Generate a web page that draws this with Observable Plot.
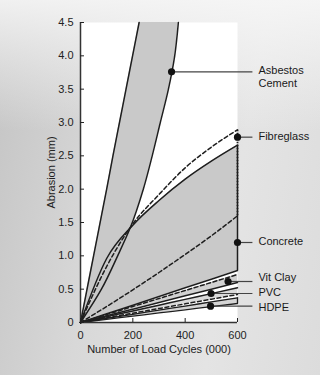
<!DOCTYPE html>
<html>
<head>
<meta charset="utf-8">
<script src="https://cdn.jsdelivr.net/npm/d3@7"></script>
<script src="https://cdn.jsdelivr.net/npm/@observablehq/plot@0.6"></script>
<style>
  html, body { margin: 0; padding: 0; }
  body {
    width: 320px; height: 375px; overflow: hidden;
    background:
      linear-gradient(to bottom, rgba(248,248,248,0.85) 0%, rgba(248,248,248,0) 35%),
      linear-gradient(100deg, #c4c4c4 0%, #d8d8d8 35%, #e4e4e4 70%, #dcdcdc 100%);
    font-family: "Liberation Sans", Arial, sans-serif;
  }
</style>
</head>
<body>
<div id="chart"></div>
<script>
// ---- Data ----
const xs = [0, 100, 200, 300, 400, 500, 600];            // load cycles (000)
const concreteUpper = [0, 0.96, 1.46, 1.83, 2.15, 2.42, 2.66];
const concreteLower = [0, 0.13, 0.26, 0.39, 0.52, 0.65, 0.78];
const fibreUpper    = [0, 0.84, 1.48, 1.92, 2.32, 2.63, 2.89];
const fibreLower    = [0, 0.24, 0.49, 0.75, 1.02, 1.30, 1.60];
const vitUpper      = [0, 0.12, 0.24, 0.36, 0.48, 0.60, 0.72];
const vitLower      = [0, 0.10, 0.20, 0.30, 0.40, 0.50, 0.60];
const pvcUpper      = [0, 0.087, 0.173, 0.26, 0.347, 0.433, 0.52];
const pvcLower      = [0, 0.07, 0.14, 0.21, 0.28, 0.35, 0.42];
const hdpeUpper     = [0, 0.062, 0.123, 0.185, 0.247, 0.308, 0.37];
const hdpeLower     = [0, 0.048, 0.095, 0.143, 0.19, 0.238, 0.285];

const asbY     = [0, 0.5, 1.0, 1.42, 2.0, 2.5, 3.0, 3.5, 4.0, 4.5];  // abrasion (mm)
const asbLeft  = [0, 25, 50, 71, 100, 124, 149, 174, 199, 224];
const asbRight = [0, 80, 142, 190, 240, 274, 305, 336, 360, 374];

const labels  = ["Asbestos\nCement", "Fibreglass", "Concrete", "Vit Clay", "PVC", "HDPE"];
const markerX = [348, 600, 600, 564, 499, 497];
const markerY = [3.76, 2.78, 1.2, 0.615, 0.435, 0.245];

const xTicks = [0, 200, 400, 600];
const yTicks = [0, 0.5, 1.0, 1.5, 2.0, 2.5, 3.0, 3.5, 4.0, 4.5];

// ---- Tables ----
const band = xs.map((x, i) => ({
  x,
  cu: concreteUpper[i], cl: concreteLower[i],
  fu: fibreUpper[i], fl: fibreLower[i],
  vu: vitUpper[i], vl: vitLower[i],
  pu: pvcUpper[i], pl: pvcLower[i],
  hu: hdpeUpper[i], hl: hdpeLower[i]
}));
const asb = asbY.map((y, i) => ({y, l: asbLeft[i], r: asbRight[i]}));
const markers = labels.map((t, i) => ({t, x: markerX[i], y: markerY[i]}));
const last = band[band.length - 1];
const xMax = xTicks[xTicks.length - 1];
const leaderEnd = 657, labelX = 680;
// small vertical nudges (in mm) so the stacked labels keep apart as in the reference
const labelNudge = {"Vit Clay": 0.04, "HDPE": -0.03};

const ink = "#1e1e1e";
const dash = "4,2.6";
const crv = "monotone-x";
const fontFam = `"Liberation Sans", Arial, sans-serif`;

const chart = Plot.plot({
  width: 320,
  height: 375,
  marginLeft: 80,
  marginRight: 83,
  marginTop: 22,
  marginBottom: 53,
  style: {background: "transparent", fontFamily: fontFam, fontSize: "11px", color: "#222"},
  x: {domain: [0, 600]},
  y: {domain: [0, 4.5]},
  marks: [
    Plot.frame({fill: "white", stroke: null}),
    // fills
    Plot.areaY(band, {x: "x", y1: "cl", y2: "cu", fill: "#c9c9c9", curve: crv}),
    Plot.areaY(band, {x: "x", y1: "vl", y2: "vu", fill: "#d2d2d2", curve: crv}),
    Plot.areaY(band, {x: "x", y1: "pl", y2: "pu", fill: "#dadada", curve: crv}),
    Plot.areaY(band, {x: "x", y1: "hl", y2: "hu", fill: "#d4d4d4", curve: crv}),
    Plot.areaX(asb, {y: "y", x1: "l", x2: "r", fill: "#c9c9c9", curve: "monotone-y"}),
    // HDPE
    Plot.line(band, {x: "x", y: "hu", stroke: ink, strokeWidth: 1.3, curve: crv}),
    Plot.line(band, {x: "x", y: "hl", stroke: ink, strokeWidth: 1.3, curve: crv}),
    Plot.ruleX([xMax], {y1: last.hl, y2: last.hu, stroke: ink, strokeWidth: 1.3}),
    // PVC
    Plot.line(band, {x: "x", y: "pl", stroke: ink, strokeWidth: 1.5, strokeDasharray: dash, curve: crv}),
    Plot.line(band, {x: "x", y: "pu", stroke: ink, strokeWidth: 1.5, curve: crv}),
    // Vit Clay
    Plot.line(band, {x: "x", y: "vl", stroke: ink, strokeWidth: 1.5, curve: crv}),
    Plot.line(band, {x: "x", y: "vu", stroke: ink, strokeWidth: 1.5, strokeDasharray: dash, curve: crv}),
    // Concrete
    Plot.line(band, {x: "x", y: "cl", stroke: ink, strokeWidth: 1.5, curve: crv}),
    Plot.line(band, {x: "x", y: "cu", stroke: ink, strokeWidth: 1.5, curve: crv}),
    Plot.ruleX([xMax], {y1: last.cl, y2: last.cu, stroke: ink, strokeWidth: 1.5}),
    // Fibreglass (dashed outline)
    Plot.line(band, {x: "x", y: "fu", stroke: ink, strokeWidth: 1.5, strokeDasharray: dash, curve: crv}),
    Plot.line(band, {x: "x", y: "fl", stroke: ink, strokeWidth: 1.5, strokeDasharray: dash, curve: crv}),
    Plot.ruleX([xMax], {y1: last.fl, y2: last.fu, stroke: ink, strokeWidth: 1.8, strokeDasharray: "1.5,1.5"}),
    // Asbestos cement
    Plot.line(asb, {x: "l", y: "y", stroke: ink, strokeWidth: 1.5, curve: "monotone-y"}),
    Plot.line(asb, {x: "r", y: "y", stroke: ink, strokeWidth: 1.5, curve: "monotone-y"}),
    // axes
    Plot.ruleX([0], {stroke: "#333", strokeWidth: 1.5}),
    Plot.ruleY([0], {stroke: "#333", strokeWidth: 1.5}),
    Plot.axisY({ticks: yTicks, tickSize: -4, tickPadding: 11, tickFormat: d => d === 0 ? "0" : d.toFixed(1),
      label: "Abrasion (mm)", labelAnchor: "center", labelArrow: "none", labelOffset: 33, fontSize: 11}),
    Plot.axisX({ticks: xTicks, tickSize: -4, tickPadding: 13, tickFormat: d => String(d),
      label: "Number of Load Cycles (000)", labelAnchor: "center", labelArrow: "none", labelOffset: 30, fontSize: 11}),
    // markers, leaders and labels
    Plot.link(markers, {x1: "x", y1: "y", x2: () => leaderEnd, y2: "y", stroke: "#444", strokeWidth: 1.2}),
    Plot.dot(markers, {x: "x", y: "y", r: 3.6, fill: "#111", stroke: null}),
    Plot.text(markers, {x: () => labelX, y: d => d.y + (labelNudge[d.t] || 0), text: "t",
      textAnchor: "start", lineAnchor: "top", dy: -6, lineHeight: 1.1, fontSize: 11, fill: "#1a1a1a"})
  ]
});
document.getElementById("chart").append(chart);
</script>
</body>
</html>
